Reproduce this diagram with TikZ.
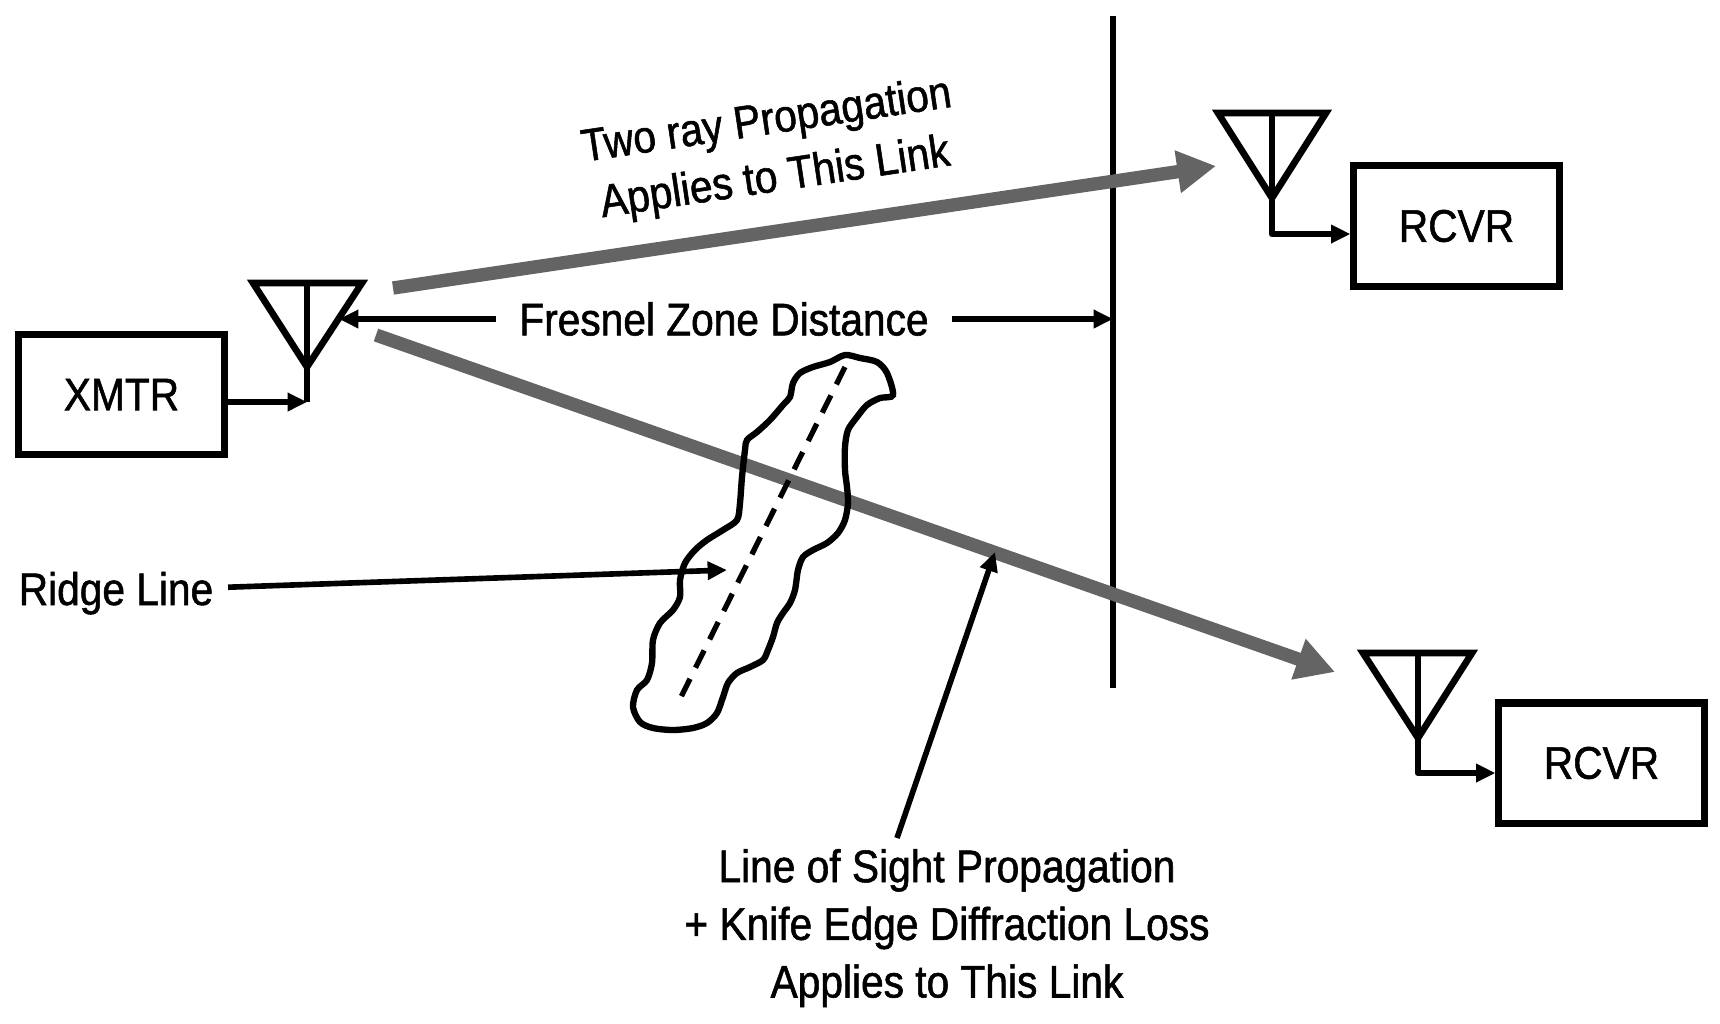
\documentclass[tikz,border=0pt]{standalone}
\usepackage{fontspec}
\setmainfont{Liberation Sans}[FakeStretch=0.89, FakeBold=1.2]
\usetikzlibrary{arrows.meta}
\definecolor{raygray}{RGB}{100,100,100}
\tikzset{
  lbl/.style={font=\fontsize{13}{16.4}\selectfont, inner sep=0pt},
  box/.style={lbl, draw, line width=2pt, minimum width=2.05cm, minimum height=1.2cm},
  ant/.style={line width=1.9pt, line join=miter},
  wire/.style={line width=1.6pt, -{Triangle[length=5.5pt,width=5pt]}},
  ray/.style={raygray, line width=3.8pt, -{Triangle[length=11pt,width=11.5pt]}},
}

\begin{document}
\begin{tikzpicture}[x=0.01cm, y=-0.01cm]
\useasboundingbox (0,0) rectangle (1720,1023);

% transmitter
\node[box] (xmtr) at (121.5,394.5) {XMTR};
\draw[ant] (253,283) -- (362,283) -- (307,367) -- cycle;
\draw[ant] (307,283) -- (307,402) coordinate (xfoot);
\draw[wire] (xmtr.east |- xfoot) -- (xfoot);

% receivers
\node[box] (rcvra) at (1456.5,226) {RCVR};
\draw[ant] (1218,113) -- (1326,113) -- (1272,198) -- cycle;
\coordinate (afoot) at (1272,234);
\draw[wire, line width=1.9pt, line join=round] (1272,113) -- (afoot) -- (afoot -| rcvra.west);
\node[box] (rcvrb) at (1601.5,763) {RCVR};
\draw[ant] (1363,653) -- (1472,653) -- (1418,738) -- cycle;
\coordinate (bfoot) at (1418,773);
\draw[wire, line width=1.9pt, line join=round] (1418,653) -- (bfoot) -- (bfoot -| rcvrb.west);

% fresnel zone
\coordinate (fztop) at (1113,16);
\coordinate (fzbot) at (1113,688);
\draw[line width=1.6pt] (fztop) -- (fzbot);
\node[lbl, inner xsep=6.5pt] (fresnel) at (724,319) {Fresnel Zone Distance};
\coordinate (xtip) at (339,319);
\draw[wire] (fresnel.west) -- (xtip);
\draw[wire] (fresnel.east) -- (fresnel.east -| fztop);

% the two links
\coordinate (upA) at (393,288);
\coordinate (upB) at (1216,166);
\draw[ray] (upA) -- (upB);
\node[lbl, rotate=8.5, align=center] (tworay) at (771,151) {Two ray Propagation\\Applies to This Link};
\coordinate (dnA) at (376,335);
\coordinate (dnB) at (1335,672);
\draw[ray] (dnA) -- (dnB);

% ridge
\draw[line width=1.8pt] plot[smooth cycle, tension=0.5] coordinates {
  (845,355) (860,358) (877,362) (887,373) (893,395) (880,398) (867,405)
  (857,417) (848,430) (845,447) (845,470) (847,487) (848,503) (845,520)
  (838,533) (827,543) (813,550) (803,557) (798,570) (795,590) (790,603)
  (783,613) (777,623) (773,637) (768,650) (763,660) (750,667) (737,673)
  (728,683) (723,697) (717,713) (707,723) (693,728) (673,730) (653,728)
  (640,722) (633,707) (637,690) (647,680) (652,663) (653,640) (660,623)
  (673,610) (680,597) (680,580) (685,563) (695,550) (707,540) (723,530)
  (737,520) (740,503) (742,477) (745,450) (747,440) (757,432) (770,420)
  (783,405) (790,397) (793,383) (800,373) (813,367) (830,362)};
\coordinate (crest) at (845,367);
\coordinate (foot) at (677,705);
\draw[line width=1.5pt, dash pattern=on 5.5pt off 3.5pt] (crest) -- (foot);
\node[lbl, inner sep=4pt, anchor=base west] (ridge) at (4,605) {Ridge Line};
\coordinate (ridgetip) at (727,570);
\draw[wire] ([yshift=1.7pt]ridge.east) -- (ridgetip);

% line of sight
\node[lbl, align=center] (los) at (947,928) {Line of Sight Propagation\\+ Knife Edge Diffraction Loss\\Applies to This Link};
\coordinate (losfoot) at (897,838);
\coordinate (lostip) at (995,552);
\draw[wire] (losfoot) -- (lostip);
\end{tikzpicture}
\end{document}
